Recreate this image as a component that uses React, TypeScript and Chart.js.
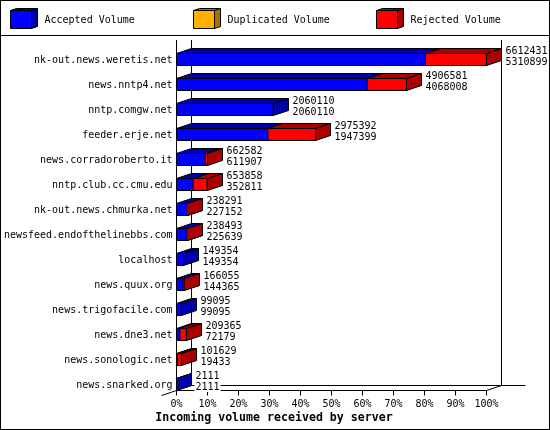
import React, { useEffect, useRef } from "react";
import { Chart, registerables } from "chart.js";

Chart.register(...registerables);

const servers = [
  "nk-out.news.weretis.net", "news.nntp4.net", "nntp.comgw.net", "feeder.erje.net",
  "news.corradoroberto.it", "nntp.club.cc.cmu.edu", "nk-out.news.chmurka.net",
  "newsfeed.endofthelinebbs.com", "localhost", "news.quux.org", "news.trigofacile.com",
  "news.dne3.net", "news.sonologic.net", "news.snarked.org",
];
const totalVolume = [6612431, 4906581, 2060110, 2975392, 662582, 653858, 238291, 238493, 149354, 166055, 99095, 209365, 101629, 2111];
const acceptedVolume = [5310899, 4068008, 2060110, 1947399, 611907, 352811, 227152, 225639, 149354, 144365, 99095, 72179, 19433, 2111];
const duplicatedVolume = [0, 0, 0, 0, 0, 0, 0, 0, 0, 0, 0, 0, 0, 0];
const rejectedVolume = [1301532, 838573, 0, 1027993, 50675, 301047, 11139, 12854, 0, 21690, 0, 137186, 82196, 0];
const percentTicks = [0, 10, 20, 30, 40, 50, 60, 70, 80, 90, 100];
const axisMax = 6612431;
const axisTitle = "Incoming volume received by server";

const MONO = '"DejaVu Sans Mono"';
const DX = 15;
const DY = 5;
const sideColors = ["#0000AA", "#A87400", "#AA0000"];

function poly(ctx: CanvasRenderingContext2D, pts: number[][], fill: string) {
  ctx.beginPath();
  pts.forEach((p, i) => (i ? ctx.lineTo(p[0], p[1]) : ctx.moveTo(p[0], p[1])));
  ctx.closePath();
  ctx.fillStyle = fill;
  ctx.fill();
  ctx.stroke();
}

function line(ctx: CanvasRenderingContext2D, x0: number, y0: number, x1: number, y1: number) {
  ctx.beginPath();
  ctx.moveTo(x0, y0);
  ctx.lineTo(x1, y1);
  ctx.stroke();
}

const crisp = (v: number) => Math.floor(v) + 0.5;

const chartDecor = {
  id: "chartDecor",
  beforeDraw(chart: any) {
    const ctx: CanvasRenderingContext2D = chart.ctx;
    ctx.save();
    ctx.fillStyle = "#FFFFFF";
    ctx.fillRect(0, 0, chart.width, chart.height);
    ctx.restore();
  },
  beforeDatasetsDraw(chart: any) {
    const ctx: CanvasRenderingContext2D = chart.ctx;
    const xs = chart.scales.x;
    const left = crisp(xs.left);
    const right = crisp(xs.right);
    ctx.save();
    ctx.strokeStyle = "#000000";
    ctx.lineWidth = 1;
    const wallTop = 40;
    const frontY = 390.5;
    const backY = frontY - DY;
    // walls and floor
    line(ctx, left, wallTop, left, frontY);
    line(ctx, left + DX, wallTop, left + DX, backY);
    line(ctx, right + DX, wallTop, right + DX, backY);
    line(ctx, left + DX, backY, right + DX + 24, backY);
    line(ctx, left, frontY, right, frontY);
    line(ctx, left - DX, frontY + DY, left + DX, backY);
    line(ctx, right, frontY, right + DX, backY);
    percentTicks.forEach((p) => {
      const x = crisp(xs.getPixelForValue((p / 100) * axisMax));
      line(ctx, x, frontY, x, frontY + DY);
    });
    // 3D faces of the bars
    chart.data.datasets.forEach((ds: any, di: number) => {
      const meta = chart.getDatasetMeta(di);
      meta.data.forEach((bar: any, i: number) => {
        if (!ds.data[i]) return;
        const x0 = crisp(bar.base);
        const x1 = crisp(bar.x);
        const y0 = crisp(bar.y - bar.height / 2);
        const y1 = crisp(bar.y + bar.height / 2);
        const c = sideColors[di];
        poly(ctx, [[x0, y0], [x0 + DX, y0 - DY], [x1 + DX, y0 - DY], [x1, y0]], c);
        poly(ctx, [[x1, y0], [x1 + DX, y0 - DY], [x1 + DX, y1 - DY], [x1, y1]], c);
      });
    });
    ctx.restore();
  },
  afterDatasetsDraw(chart: any) {
    const ctx: CanvasRenderingContext2D = chart.ctx;
    const xs = chart.scales.x;
    ctx.save();
    ctx.strokeStyle = "#000000";
    ctx.lineWidth = 1;
    line(ctx, crisp(xs.left), 40, crisp(xs.left), 390.5);
    // value labels
    ctx.font = `10px ${MONO}`;
    ctx.textAlign = "left";
    ctx.textBaseline = "middle";
    const meta = chart.getDatasetMeta(0);
    meta.data.forEach((bar: any, i: number) => {
      const x = crisp(xs.getPixelForValue(totalVolume[i])) + DX + 4;
      [String(totalVolume[i]), String(acceptedVolume[i])].forEach((t, k) => {
        const y = bar.y - 8.5 + k * 11;
        ctx.fillStyle = "#FFFFFF";
        ctx.fillRect(x - 1, y - 5, ctx.measureText(t).width + 2, 10);
        ctx.fillStyle = "#000000";
        ctx.fillText(t, x, y);
      });
    });
    // legend band
    chart.data.datasets.forEach((ds: any, di: number) => {
      const cx = 10.5 + di * 183;
      const top = 10.5;
      const bottom = 28.5;
      const right = cx + 21;
      poly(ctx, [[cx, top], [cx + 6, top - 2], [right + 6, top - 2], [right, top]], sideColors[di]);
      poly(ctx, [[right, top], [right + 6, top - 2], [right + 6, bottom - 2], [right, bottom]], sideColors[di]);
      poly(ctx, [[cx, top], [right, top], [right, bottom], [cx, bottom]], ds.backgroundColor);
      ctx.fillStyle = "#000000";
      ctx.fillText(ds.label, cx + 34, 20.5);
    });
    // axis title
    ctx.font = `bold 11.6px ${MONO}`;
    ctx.textAlign = "center";
    ctx.fillText(axisTitle, 274, 417.5);
    line(ctx, 0, 35.5, chart.width, 35.5);
    ctx.strokeRect(0.5, 0.5, chart.width - 1, chart.height - 1);
    ctx.restore();
  },
};

export default function App() {
  const ref = useRef<HTMLCanvasElement>(null);
  useEffect(() => {
    const common = {
      borderColor: "#000000",
      borderWidth: 1,
      barThickness: 12,
      inflateAmount: 0.5,
      borderSkipped: false,
      clip: false,
      stack: "volume",
    };
    const chart = new Chart(ref.current as HTMLCanvasElement, {
      type: "bar",
      plugins: [chartDecor],
      data: {
        labels: servers,
        datasets: [
          { label: "Accepted Volume", data: acceptedVolume, backgroundColor: "#0000FF", ...common },
          { label: "Duplicated Volume", data: duplicatedVolume, backgroundColor: "#FFB000", ...common },
          { label: "Rejected Volume", data: rejectedVolume, backgroundColor: "#FF0000", ...common },
        ],
      } as any,
      options: {
        indexAxis: "y",
        animation: false,
        responsive: false,
        devicePixelRatio: 1,
        layout: { padding: { top: 47, right: 63.5, bottom: 20, left: 0 } },
        scales: {
          x: {
            stacked: true,
            min: 0,
            max: axisMax,
            afterBuildTicks(scale: any) {
              scale.ticks = percentTicks.map((p) => ({ value: (p / 100) * axisMax }));
            },
            afterFit(scale: any) {
              scale.height = 13;
            },
            grid: { display: false, drawTicks: false },
            border: { display: false },
            ticks: {
              color: "#000000",
              font: { family: MONO, size: 10 },
              padding: 1.5,
              maxRotation: 0,
              autoSkip: false,
              callback: (v: any) => `${Math.round((Number(v) / axisMax) * 100)}%`,
            },
          },
          y: {
            stacked: true,
            afterFit(scale: any) {
              scale.width = 176.5;
            },
            grid: { display: false, drawTicks: false },
            border: { display: false },
            ticks: {
              color: "#000000",
              font: { family: MONO, size: 10 },
              padding: 4,
              labelOffset: 1,
              autoSkip: false,
            },
          },
        },
        plugins: {
          legend: { display: false },
          tooltip: { enabled: false },
          title: { display: false },
        },
      } as any,
    });
    return () => chart.destroy();
  }, []);
  return (
    <div style={{ position: "absolute", left: 0, top: 0, width: 550, height: 430 }}>
      <canvas ref={ref} width={550} height={430} style={{ display: "block" }} />
    </div>
  );
}
